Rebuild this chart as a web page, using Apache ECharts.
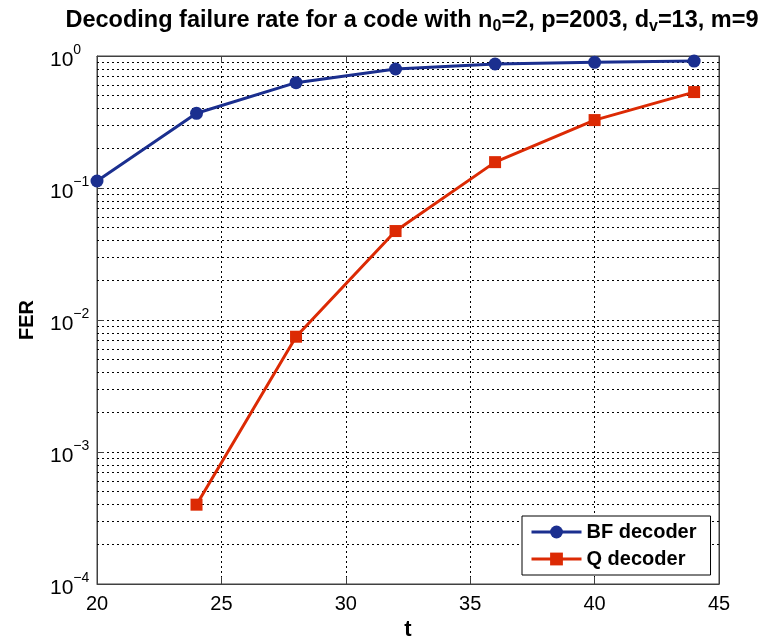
<!DOCTYPE html>
<html>
<head>
<meta charset="utf-8">
<script src="https://cdn.jsdelivr.net/npm/echarts@6/dist/echarts.min.js"></script>
<style>html,body{margin:0;padding:0;background:#fff;}#c{width:772px;height:636px;}</style>
</head>
<body>
<div id="c"></div>
<script>
// ---- data ----
const bfT = [20, 24, 28, 32, 36, 40, 44];
const bfFER = [0.113, 0.368, 0.628, 0.797, 0.870, 0.896, 0.915];
const qT = [24, 28, 32, 36, 40, 44];
const qFER = [3.99e-4, 7.47e-3, 0.0472, 0.157, 0.327, 0.533];
const seriesNames = ['BF decoder', 'Q decoder'];
const xTicks = [20, 25, 30, 35, 40, 45];
const yDecades = [1e-4, 1e-3, 1e-2, 1e-1, 1];
const minorMultipliers = [2, 3, 4, 5, 6, 7, 8, 9];

const blue = '#1b2f8f';
const red = '#dc2a04';
const axisColor = '#404040';
const gridDots = { color: '#000', width: 1, type: [2, 3] };

const minorValues = [];
for (let i = 0; i < yDecades.length - 1; i++) {
  for (const m of minorMultipliers) minorValues.push(m * yDecades[i]);
}

function expLabel(v) {
  const e = Math.round(Math.log10(v));
  const s = e < 0 ? '\u2212' + (-e) : String(e);
  return '{b|10}{e|' + s + '}';
}

const chart = echarts.init(document.getElementById('c'));
chart.setOption({
  backgroundColor: '#fff',
  animation: false,
  title: {
    text: '{m|Decoding failure rate for a code with n}{sub|0}{m|=2, p=2003, d}{sub|v}{m|=13, m=9}',
    left: 407, top: 4, textAlign: 'center',
    textStyle: {
      fontFamily: 'Liberation Sans', fontWeight: 'bold', fontSize: 23.5, color: '#000',
      rich: {
        m: { fontFamily: 'Liberation Sans', fontWeight: 'bold', fontSize: 23.5, color: '#000',
             lineHeight: 26, verticalAlign: 'top' },
        sub: { fontFamily: 'Liberation Sans', fontWeight: 'bold', fontSize: 16, color: '#000',
               verticalAlign: 'bottom', lineHeight: 16, padding: [24, 0, 0, 0] }
      }
    }
  },
  grid: { left: 97, right: 53, top: 56, bottom: 52, show: true, borderColor: axisColor, borderWidth: 1,
          backgroundColor: '#fff', outerBoundsMode: 'none', containLabel: false },
  legend: {
    data: seriesNames,
    orient: 'vertical',
    left: 522, top: 516, z: 20,
    backgroundColor: '#fff', borderColor: '#000', borderWidth: 1,
    padding: [5, 14, 5, 8],
    itemWidth: 50, itemHeight: 16, itemGap: 5,
    lineStyle: { width: 3 },
    textStyle: { fontFamily: 'Liberation Sans', fontWeight: 'bold', fontSize: 20, color: '#000', lineHeight: 22 }
  },
  xAxis: [{
    type: 'value', min: 20, max: 45, interval: 5, position: 'bottom',
    name: 't', nameLocation: 'middle', nameGap: 31,
    nameTextStyle: { fontFamily: 'Liberation Sans', fontWeight: 'bold', fontSize: 22, color: '#000' },
    axisLine: { show: true, lineStyle: { color: axisColor, width: 1 } },
    axisTick: { show: true, inside: true, length: 7, lineStyle: { color: axisColor } },
    axisLabel: { fontFamily: 'Liberation Sans', fontSize: 20, color: '#000', margin: 10,
                 formatter: v => xTicks.includes(v) ? String(v) : '' },
    splitLine: { show: true, lineStyle: gridDots }
  }, {
    type: 'value', min: 20, max: 45, interval: 5, position: 'top',
    axisLine: { show: true, lineStyle: { color: axisColor, width: 1 } },
    axisTick: { show: true, inside: true, length: 7, lineStyle: { color: axisColor } },
    axisLabel: { show: false }, splitLine: { show: false }
  }],
  yAxis: [{
    type: 'log', logBase: 10, min: 1e-4, max: 1, position: 'left',
    name: 'FER', nameLocation: 'middle', nameGap: 60, nameRotate: 90,
    nameTextStyle: { fontFamily: 'Liberation Sans', fontWeight: 'bold', fontSize: 20, color: '#000' },
    axisLine: { show: true, lineStyle: { color: axisColor, width: 1 } },
    axisTick: { show: true, inside: true, length: 7, lineStyle: { color: axisColor } },
    axisLabel: {
      align: 'left', margin: 47, formatter: expLabel, padding: [4, 0, 0, 0],
      rich: {
        b: { fontFamily: 'Liberation Sans', fontSize: 21, color: '#000', lineHeight: 30, padding: [5, 0, 0, 0] },
        e: { fontFamily: 'Liberation Sans', fontSize: 14, color: '#000', lineHeight: 14, verticalAlign: 'top' }
      }
    },
    splitLine: { show: true, lineStyle: gridDots }
  }, {
    type: 'log', logBase: 10, min: 1e-4, max: 1, position: 'right',
    axisLine: { show: true, lineStyle: { color: axisColor, width: 1 } },
    axisTick: { show: true, inside: true, length: 7, lineStyle: { color: axisColor } },
    axisLabel: { show: false }, splitLine: { show: false }
  }],
  series: [{
    name: 'minor-grid', type: 'line', data: [], silent: true, z: 1,
    markLine: {
      silent: true, symbol: 'none', animation: false, precision: 12, z: 1,
      label: { show: false },
      lineStyle: gridDots,
      emphasis: { disabled: true },
      data: minorValues.map(v => ({ yAxis: v }))
    }
  }, {
    name: seriesNames[0], type: 'line', z: 3,
    data: bfT.map((t, i) => [t, bfFER[i]]),
    symbol: 'circle', symbolSize: 13,
    lineStyle: { color: blue, width: 3 },
    itemStyle: { color: blue }
  }, {
    name: seriesNames[1], type: 'line', z: 3,
    data: qT.map((t, i) => [t, qFER[i]]),
    symbol: 'rect', symbolSize: 12,
    lineStyle: { color: red, width: 3 },
    itemStyle: { color: red }
  }]
});
</script>
</body>
</html>
